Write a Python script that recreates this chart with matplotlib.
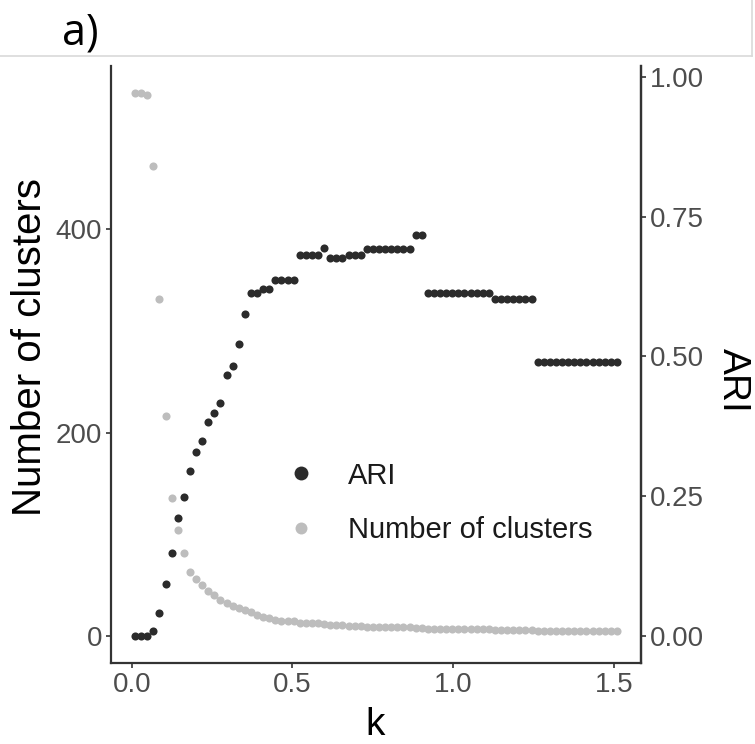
import numpy as np
import matplotlib
matplotlib.use("Agg")
import matplotlib.pyplot as plt
from matplotlib.lines import Line2D

# ---- data ----
k = [0.0100, 0.0290, 0.0480, 0.0670, 0.0859, 0.1049, 0.1239, 0.1429, 0.1619, 0.1809,
     0.1999, 0.2189, 0.2378, 0.2568, 0.2758, 0.2948, 0.3138, 0.3328, 0.3518, 0.3708,
     0.3897, 0.4087, 0.4277, 0.4467, 0.4657, 0.4847, 0.5037, 0.5227, 0.5416, 0.5606,
     0.5796, 0.5986, 0.6176, 0.6366, 0.6556, 0.6746, 0.6935, 0.7125, 0.7315, 0.7505,
     0.7695, 0.7885, 0.8075, 0.8265, 0.8454, 0.8644, 0.8834, 0.9024, 0.9214, 0.9404,
     0.9594, 0.9784, 0.9973, 1.0163, 1.0353, 1.0543, 1.0733, 1.0923, 1.1113, 1.1303,
     1.1492, 1.1682, 1.1872, 1.2062, 1.2252, 1.2442, 1.2632, 1.2822, 1.3011, 1.3201,
     1.3391, 1.3581, 1.3771, 1.3961, 1.4151, 1.4341, 1.4530, 1.4720, 1.4910, 1.5100]

ari = ([0.0, 0.0, 0.0, 0.008, 0.041, 0.093, 0.148, 0.210, 0.249, 0.295,
        0.329, 0.349, 0.382, 0.399, 0.417, 0.466, 0.483, 0.522, 0.576]
       + [0.614] * 2 + [0.620] * 2 + [0.636] * 4 + [0.681] * 4 + [0.694]
       + [0.676] * 3 + [0.681] * 3 + [0.692] * 8 + [0.718] * 2
       + [0.6125] * 11 + [0.602] * 7 + [0.4905] * 14)

n_clusters = ([534, 534, 532, 462, 331, 216, 136, 104, 82, 63, 56, 50, 44, 40,
               35, 32, 29, 27, 25, 23, 21, 19, 18, 16, 15, 15, 15, 13, 13, 13,
               13, 12, 11, 11, 11, 10, 10, 10]
              + [9] * 8 + [8] * 2 + [7] * 11 + [6] * 7 + [5] * 14)

x_ticks = [0.0, 0.5, 1.0, 1.5]
y_ticks = [0, 200, 400]
ari_ticks = [0.0, 0.25, 0.5, 0.75, 1.0]
scale_f = 550.0  # ARI -> cluster-axis scale

# ---- figure ----
W, H = 755, 744
fig = plt.figure(figsize=(W / 100, H / 100), dpi=100)
fig.patch.set_facecolor("white")

def fx(px):
    return px / W

def fy(py):
    return 1 - py / H

left, right, top, bottom = 111, 641, 66, 663
ax = fig.add_axes([fx(left), fy(bottom), fx(right - left), (bottom - top) / H])

dark = "#2b2b2b"
grey = "#bdbdbd"
axcol = "#333333"
tickcol = "#4d4d4d"
font = "Liberation Sans"

ax.scatter(k, n_clusters, s=34, color=grey, linewidths=0, zorder=2)
ax.scatter(k, [a * scale_f for a in ari], s=34, color=dark, linewidths=0, zorder=3)

ax.set_xlim(-0.065, 1.585)
ax.set_ylim(-26.7, 560.7)
ax.set_xticks(x_ticks)
ax.set_xticklabels([f"{t:.1f}" for t in x_ticks])
ax.set_yticks(y_ticks)
ax.set_yticklabels([str(t) for t in y_ticks])

for s in ["left", "bottom", "right"]:
    ax.spines[s].set_color(axcol)
    ax.spines[s].set_linewidth(1.6)
ax.spines["top"].set_visible(False)

ax.tick_params(axis="both", length=3.5, width=1.2, color=axcol,
               labelsize=20, labelcolor=tickcol, pad=3)
for lab in ax.get_xticklabels() + ax.get_yticklabels():
    lab.set_fontfamily(font)

sec = ax.secondary_yaxis("right", functions=(lambda y: y / scale_f,
                                             lambda y: y * scale_f))
sec.set_yticks(ari_ticks)
sec.set_yticklabels([f"{t:.2f}" for t in ari_ticks])
sec.spines["right"].set_color(axcol)
sec.spines["right"].set_linewidth(1.6)
sec.tick_params(axis="y", length=3.5, width=1.2, color=axcol,
                labelsize=20, labelcolor=tickcol, pad=3)
for lab in sec.get_yticklabels():
    lab.set_fontfamily(font)

# axis titles
fig.text(fx(30), fy(347), "Number of clusters", rotation=90, ha="center",
         va="center", fontsize=29, family=font, color="black")
fig.text(fx(733), fy(380), "ARI", rotation=270, ha="center", va="center",
         fontsize=28, family=font, color="black")
fig.text(fx(375), fy(725), "k", ha="center", va="center", fontsize=28,
         family=font, color="black")

# legend
handles = [Line2D([], [], linestyle="none", marker="o", markersize=10,
                  markerfacecolor=dark, markeredgewidth=0),
           Line2D([], [], linestyle="none", marker="o", markersize=8.6,
                  markerfacecolor=grey, markeredgewidth=0)]
leg = fig.legend(handles, ["ARI", "Number of clusters"], loc="upper left",
                 bbox_to_anchor=(fx(260), fy(450)), frameon=False,
                 borderaxespad=0, handlelength=2.0, handletextpad=0.61,
                 labelspacing=0.92, borderpad=0.4,
                 prop={"family": font, "size": 21})
for t in leg.get_texts():
    t.set_color("#1a1a1a")

# header panel
hdr = "#d9d9d9"
fig.add_artist(Line2D([0, fx(752)], [fy(56), fy(56)], color=hdr, linewidth=1.2))
fig.add_artist(Line2D([fx(752), fx(752)], [fy(56), 1], color=hdr, linewidth=1.2))
fig.text(fx(62), fy(33), "a)", ha="left", va="center", fontsize=31,
         family="Open Sans", color="black")

fig.savefig("out.png", dpi=100, facecolor="white")
